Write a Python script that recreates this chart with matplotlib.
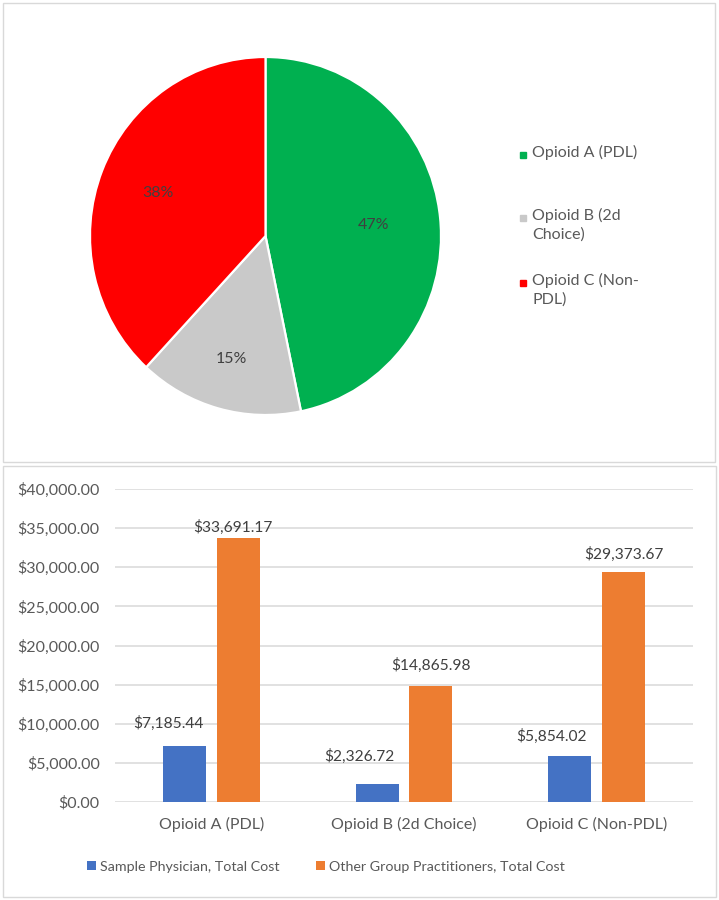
import matplotlib
matplotlib.use("Agg")
import matplotlib.pyplot as plt
from matplotlib.patches import Rectangle
from matplotlib.ticker import FuncFormatter

# ------------------- Data -------------------
categories = ["Opioid A (PDL)", "Opioid B (2d Choice)", "Opioid C (Non-PDL)"]
pie_labels = ["Opioid A (PDL)", "Opioid B (2d\nChoice)", "Opioid C (Non-\nPDL)"]
sample_cost = [7185.44, 2326.72, 5854.02]
other_cost = [33691.17, 14865.98, 29373.67]
series_names = ["Sample Physician, Total Cost", "Other Group Practitioners, Total Cost"]

pie_colors = ["#00B050", "#C9C9C9", "#FF0000"]
bar_colors = ["#4472C4", "#ED7D31"]
TEXT = "#595959"
LABEL = "#404040"
GRID = "#D9D9D9"

plt.rcParams["font.family"] = ["Lato", "DejaVu Sans"]

W, H = 719, 900
fig = plt.figure(figsize=(W / 100, H / 100), dpi=100)


def box(left, top, right, bottom):
    # pixel box -> figure fraction [l, b, w, h]
    return [left / W, 1 - bottom / H, (right - left) / W, (bottom - top) / H]


# ------------------- Panel frames -------------------
for l, t, r, b in [(3, 3, 715, 462), (3, 466, 716, 897)]:
    fig.patches.append(Rectangle((l / W, 1 - b / H), (r - l) / W, (b - t) / H,
                                 transform=fig.transFigure, fill=False,
                                 edgecolor=GRID, linewidth=1.0))

# ------------------- Pie -------------------
ax_pie = fig.add_axes(box(90, 57, 441, 415))
wedges, _, autotexts = ax_pie.pie(sample_cost, colors=pie_colors, startangle=90,
                                  counterclock=False, autopct="%1.0f%%",
                                  pctdistance=0.62,
                                  wedgeprops=dict(edgecolor="white", linewidth=1.6),
                                  textprops=dict(color=LABEL, fontsize=11.5))
ax_pie.set_aspect("auto")
ax_pie.set_xlim(-1, 1)
ax_pie.set_ylim(-1, 1)
label_radius = [0.62, 0.715, 0.66]
for t, r in zip(autotexts, label_radius):
    x, y = t.get_position()
    t.set_position((x * r / 0.62, y * r / 0.62))

# legend for pie, drawn by hand so the marker sits on the first line
leg_y = [155, 218, 283]
for lab, col, y in zip(pie_labels, pie_colors, leg_y):
    fig.patches.append(Rectangle(((520) / W, 1 - (y + 3) / H), 6 / W, 6 / H,
                                 transform=fig.transFigure, color=col))
    fig.text(532 / W, 1 - (y - 10) / H, lab, color=TEXT, fontsize=11.5,
             va="top", ha="left", linespacing=1.4)

# ------------------- Bars -------------------
ax = fig.add_axes(box(115, 489, 693, 802))
x = range(len(categories))
bw = 0.223
off = 0.139
b1 = ax.bar([i - off for i in x], sample_cost, bw, color=bar_colors[0], label=series_names[0])
b2 = ax.bar([i + off for i in x], other_cost, bw, color=bar_colors[1], label=series_names[1])

ax.set_xlim(-0.5, 2.5)
ax.set_ylim(0, 40000)
ax.set_yticks(range(0, 40001, 5000))
ax.yaxis.set_major_formatter(FuncFormatter(lambda v, p: f"${v:,.2f}"))
ax.set_xticks(list(x))
ax.set_xticklabels(categories)
ax.tick_params(axis="both", length=0, colors=TEXT, labelsize=11.5)
ax.tick_params(axis="y", pad=11)
ax.tick_params(axis="x", pad=11)
for s in ax.spines.values():
    s.set_visible(False)
ax.grid(axis="y", color=GRID, linewidth=1.1)
ax.set_axisbelow(True)

# data labels (px offsets, Excel nudged the blue ones left)
blue_offsets = [(-16, 22), (-18, 27), (-18, 20)]
orange_offsets = [(-5, 11), (0, 20), (0, 18)]
for bars, offs in [(b1, blue_offsets), (b2, orange_offsets)]:
    for rect, (dx, dy) in zip(bars, offs):
        v = rect.get_height()
        ax.annotate(f"${v:,.2f}", (rect.get_x() + rect.get_width() / 2, v),
                    xytext=(dx * 0.72, dy * 0.72), textcoords="offset points",
                    ha="center", va="center", color=LABEL, fontsize=11.2)

fig.legend(handles=[b1, b2], loc="center", bbox_to_anchor=(326 / W, 1 - 867 / H),
           ncol=2, frameon=False, fontsize=10.3, labelcolor=TEXT,
           handlelength=0.6, handleheight=0.6, handletextpad=0.25,
           columnspacing=2.6)

fig.savefig("out.png", dpi=100, facecolor="white")
